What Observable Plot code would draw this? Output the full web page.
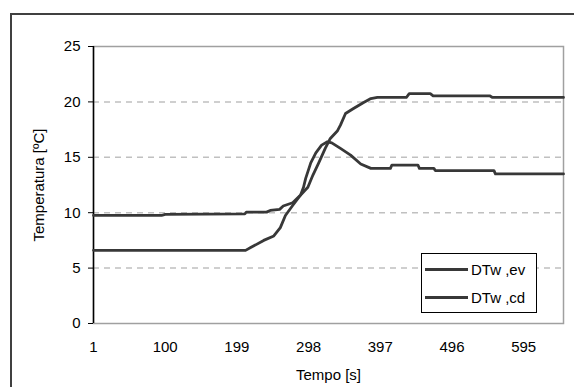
<!DOCTYPE html>
<html><head><meta charset="utf-8">
<script src="https://cdn.jsdelivr.net/npm/d3@7"></script>
<script src="https://cdn.jsdelivr.net/npm/@observablehq/plot@0.6"></script>
<style>
html,body{margin:0;padding:0;background:#fff;overflow:hidden;}
#wrap{position:relative;width:574px;height:387px;}
#outer{position:absolute;left:10px;top:13px;width:640px;height:420px;border:2px solid #404040;pointer-events:none;}
#legend{position:absolute;left:421px;top:253px;width:114px;height:58px;border:1px solid #000;background:#fff;font:15px "Liberation Sans",Arial,sans-serif;color:#000;}
.row{position:absolute;left:3px;height:16px;display:flex;align-items:center;white-space:nowrap;}
.sw{width:43px;height:3px;background:#383838;margin-right:3px;}
</style></head>
<body><div id="wrap"><div id="chart"></div><div id="legend"></div><div id="outer"></div></div>
<script>
const seriesNames = ["DTw ,ev", "DTw ,cd"];
const xDomain = [1, 650];
const xTicks = [1, 100, 199, 298, 397, 496, 595];
const yDomain = [0, 25];
const yTicks = [0, 5, 10, 15, 20, 25];
const gridValues = [5, 10, 15, 20];

const evT = [1, 95, 100, 210, 212, 240, 245, 258, 263, 276, 287, 297, 304, 312, 321, 328, 338, 342, 349, 360, 374, 384, 393, 433, 437, 466, 470, 548, 552, 650];
const evV = [9.75, 9.75, 9.85, 9.9, 10.05, 10.05, 10.2, 10.3, 10.6, 10.9, 11.6, 12.3, 13.4, 14.5, 15.8, 16.7, 17.4, 17.9, 18.95, 19.4, 19.95, 20.3, 20.4, 20.4, 20.75, 20.75, 20.55, 20.55, 20.4, 20.4];

const cdT = [1, 211, 218, 236, 250, 259, 266, 276, 287, 291, 294, 301, 308, 316, 324, 330, 342, 356, 370, 384, 411, 413, 449, 451, 471, 473, 554, 556, 650];
const cdV = [6.6, 6.6, 6.85, 7.5, 7.9, 8.65, 9.75, 10.65, 11.6, 12.3, 13.1, 14.5, 15.4, 16.1, 16.4, 16.3, 15.8, 15.2, 14.4, 14.0, 14.0, 14.3, 14.3, 14.0, 14.0, 13.8, 13.8, 13.5, 13.5];

const data = [
  ...evT.map((t, i) => ({t, v: evV[i], s: seriesNames[0]})),
  ...cdT.map((t, i) => ({t, v: cdV[i], s: seriesNames[1]}))
];

const chart = Plot.plot({
  width: 574, height: 387,
  marginLeft: 93, marginRight: 11, marginTop: 46, marginBottom: 64,
  style: {fontFamily: '"Liberation Sans", Arial, sans-serif', fontSize: "15px", background: "#fff", color: "#000"},
  x: {domain: xDomain},
  y: {domain: yDomain},
  marks: [
    Plot.ruleY(gridValues, {stroke: "#c0c0c0", strokeWidth: 1.5, strokeDasharray: "6,5"}),
    Plot.frame({stroke: "#a0a0a0", strokeWidth: 1.5}),
    Plot.ruleX([xDomain[0]], {stroke: "#000", strokeWidth: 1.5}),
    Plot.axisY({ticks: yTicks, tickSize: 5, tickPadding: 8, label: "Temperatura [ºC]", labelAnchor: "center", labelOffset: 60, labelArrow: "none"}),
    Plot.axisX({ticks: xTicks, tickSize: 0, tickPadding: 18, tickFormat: d => String(d), label: "Tempo [s]", labelAnchor: "center", labelOffset: 56, labelArrow: "none"}),
    Plot.line(data, {x: "t", y: "v", z: "s", stroke: "#383838", strokeWidth: 2.8})
  ]
});
document.getElementById("chart").appendChild(chart);

const legend = document.getElementById("legend");
seriesNames.forEach((name, i) => {
  const row = document.createElement("div");
  row.className = "row";
  row.style.top = (7 + i * 28) + "px";
  const sw = document.createElement("div");
  sw.className = "sw";
  const tx = document.createElement("span");
  tx.textContent = name;
  row.appendChild(sw); row.appendChild(tx);
  legend.appendChild(row);
});
</script>
</body></html>
